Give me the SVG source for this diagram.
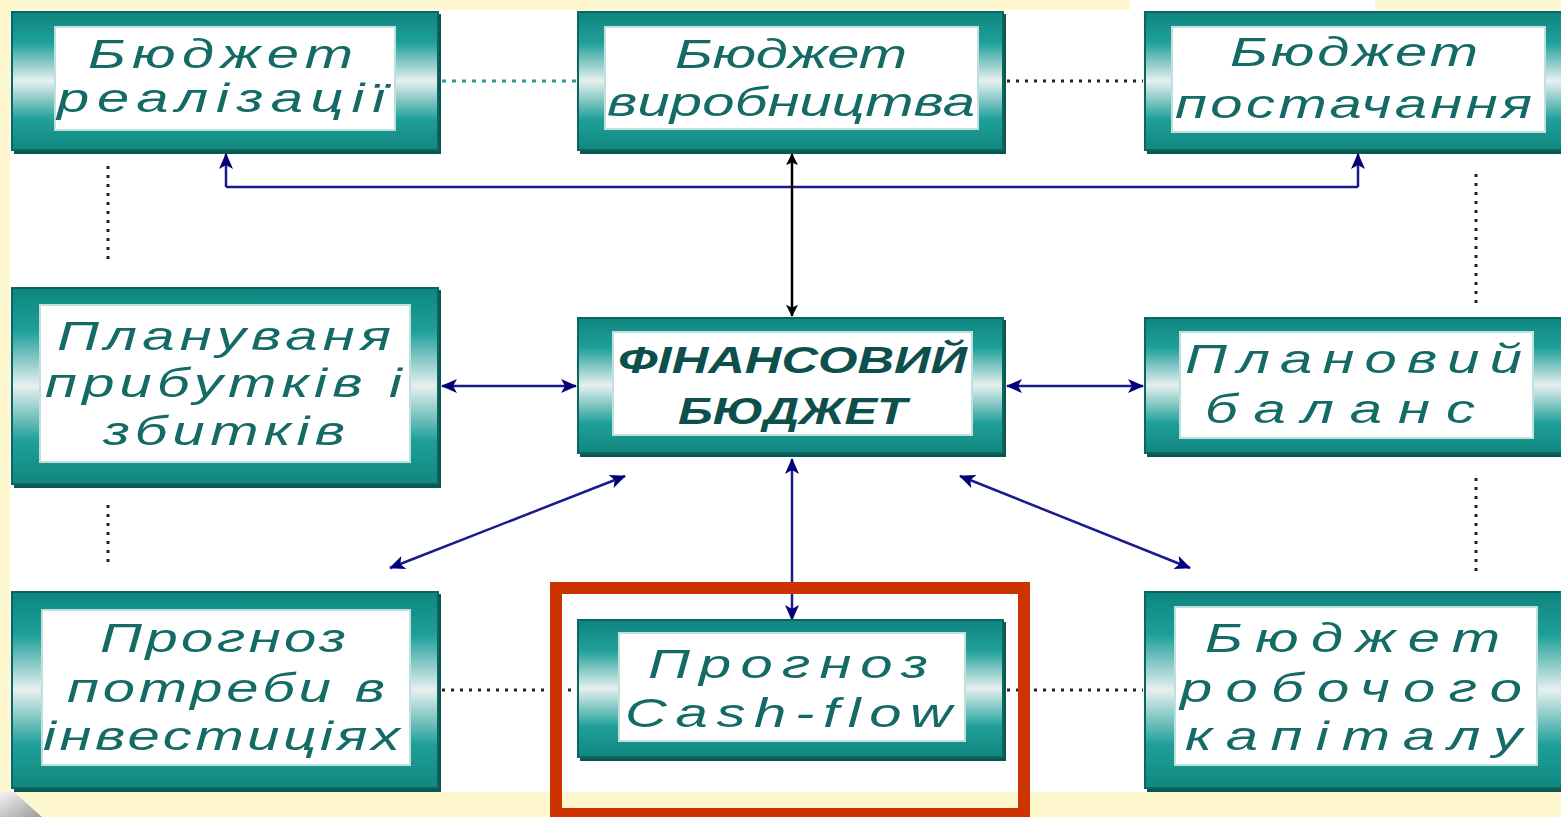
<svg xmlns="http://www.w3.org/2000/svg" width="1561" height="817" viewBox="0 0 1561 817">
<defs>
<linearGradient id="fr" x1="0" y1="0" x2="0" y2="1">
<stop offset="0" stop-color="#0E857F"/>
<stop offset="0.22" stop-color="#1F9F99"/>
<stop offset="0.5" stop-color="#E6F0EF"/>
<stop offset="0.78" stop-color="#1F9F99"/>
<stop offset="1" stop-color="#10877F"/>
</linearGradient>
<linearGradient id="curl" x1="0" y1="0" x2="1" y2="1">
<stop offset="0" stop-color="#F4F4F4"/>
<stop offset="1" stop-color="#9A9A9A"/>
</linearGradient>
<marker id="an" viewBox="0 0 16 14" refX="15" refY="7" markerWidth="16" markerHeight="14" orient="auto-start-reverse" markerUnits="userSpaceOnUse">
<path d="M0,0 L16,7 L0,14 L4,7 z" fill="#00007A"/>
</marker>
<marker id="ak" viewBox="0 0 14 14" refX="13" refY="7" markerWidth="12" markerHeight="12" orient="auto-start-reverse" markerUnits="userSpaceOnUse">
<path d="M0,0 L14,7 L0,14 L3,7 z" fill="#000"/>
</marker>
</defs>
<style>
.sh{fill:#0A5653}
.fr{fill:url(#fr);stroke:#0B6662;stroke-width:2}
.in{fill:#fff;stroke:#BFE0DD;stroke-width:2}
.t{font-family:"Liberation Sans",Arial,sans-serif;font-style:italic;font-size:40px;fill:#146A65}
.b{font-weight:bold;font-size:36px;fill:#0C4F4C}
.dk{stroke:#222;stroke-width:3;stroke-dasharray:3 6;fill:none}
.dt{stroke:#2A9A95;stroke-width:3;stroke-dasharray:4 6;fill:none}
.ar{stroke:#1A1A8E;stroke-width:2.5;fill:none}
</style>
<rect x="0" y="0" width="1561" height="817" fill="#FFF8CE"/>
<rect x="10" y="10" width="1551" height="782" fill="#fff"/>
<rect x="1130" y="0" width="245" height="10" fill="#fff"/>
<path d="M0,792 L14,792 L42,817 L0,817 z" fill="url(#curl)"/>

<g id="connectors">
<path class="dt" d="M442,81 H576"/>
<path class="dk" d="M1007,81 H1143"/>
<path class="dk" d="M108,166 V260"/>
<path class="dk" d="M108,505 V564"/>
<path class="dk" d="M1476,174 V304"/>
<path class="dk" d="M1476,478 V572"/>
<path class="dk" d="M442,690 H576"/>
<path class="dk" d="M1007,690 H1143"/>
<path class="ar" d="M226,187 H1358"/>
<path class="ar" d="M226,187 V154" marker-end="url(#an)"/>
<path class="ar" d="M1358,187 V154" marker-end="url(#an)"/>
<path d="M792,154 V316" stroke="#000" stroke-width="2.5" fill="none" marker-start="url(#ak)" marker-end="url(#ak)"/>
<path class="ar" d="M442,386 H576" marker-start="url(#an)" marker-end="url(#an)"/>
<path class="ar" d="M1007,386 H1143" marker-start="url(#an)" marker-end="url(#an)"/>
<path class="ar" d="M625,476 L390,568" marker-start="url(#an)" marker-end="url(#an)"/>
<path class="ar" d="M960,476 L1190,568" marker-start="url(#an)" marker-end="url(#an)"/>
<path class="ar" d="M792,459 V620" marker-start="url(#an)" marker-end="url(#an)"/>
</g>

<g id="n1">
<rect class="sh" x="14" y="14" width="427" height="140"/>
<rect class="fr" x="12" y="12" width="426" height="138"/>
<rect class="in" x="55" y="27" width="340" height="103"/>
<text class="t" transform="translate(88 68) scale(1.45 1)" textLength="182.8">Бюджет</text>
<text class="t" transform="translate(57 112) scale(1.45 1)" textLength="226.2">реалізації</text>
</g>
<g id="n2">
<rect class="sh" x="580" y="14" width="426" height="140"/>
<rect class="fr" x="578" y="12" width="425" height="138"/>
<rect class="in" x="605" y="27" width="373" height="102"/>
<text class="t" transform="translate(675 68) scale(1.45 1)" textLength="160">Бюджет</text>
<text class="t" transform="translate(607 116) scale(1.45 1)" textLength="253.8">виробництва</text>
</g>
<g id="n3">
<rect class="sh" x="1147" y="14" width="416" height="140"/>
<rect class="fr" x="1145" y="12" width="418" height="138"/>
<rect class="in" x="1172" y="27" width="373" height="105"/>
<text class="t" transform="translate(1230 66) scale(1.45 1)" textLength="171">Бюджет</text>
<text class="t" transform="translate(1175 118) scale(1.45 1)" textLength="246.2">постачання</text>
</g>
<g id="n4">
<rect class="sh" x="14" y="290" width="427" height="198"/>
<rect class="fr" x="12" y="288" width="426" height="196"/>
<rect class="in" x="40" y="305" width="370" height="157"/>
<text class="t" transform="translate(57 350) scale(1.45 1)" textLength="230.3">Плануваня</text>
<text class="t" transform="translate(45 397) scale(1.45 1)" textLength="246.2">прибутків і</text>
<text class="t" transform="translate(103 445) scale(1.45 1)" textLength="166.9">збитків</text>
</g>
<g id="n5">
<rect class="sh" x="580" y="320" width="426" height="137"/>
<rect class="fr" x="578" y="318" width="425" height="135"/>
<rect class="in" x="613" y="332" width="359" height="103"/>
<text class="t b" x="618" y="373" textLength="349" lengthAdjust="spacingAndGlyphs">ФІНАНСОВИЙ</text>
<text class="t b" x="678" y="424" textLength="229" lengthAdjust="spacingAndGlyphs">БЮДЖЕТ</text>
</g>
<g id="n6">
<rect class="sh" x="1147" y="320" width="416" height="137"/>
<rect class="fr" x="1145" y="318" width="418" height="135"/>
<rect class="in" x="1180" y="332" width="353" height="106"/>
<text class="t" transform="translate(1185 373) scale(1.45 1)" textLength="232.4">Плановий</text>
<text class="t" transform="translate(1205 423) scale(1.45 1)" textLength="186.2">баланс</text>
</g>
<g id="n7">
<rect class="sh" x="14" y="594" width="427" height="198"/>
<rect class="fr" x="12" y="592" width="426" height="196"/>
<rect class="in" x="42" y="610" width="368" height="155"/>
<text class="t" transform="translate(100 652) scale(1.45 1)" textLength="169.7">Прогноз</text>
<text class="t" transform="translate(67 702) scale(1.45 1)" textLength="219.3">потреби в</text>
<text class="t" transform="translate(43 750) scale(1.45 1)" textLength="246.2">інвестиціях</text>
</g>
<g id="n8">
<rect class="sh" x="580" y="622" width="426" height="139"/>
<rect class="fr" x="578" y="620" width="425" height="137"/>
<rect class="in" x="619" y="633" width="346" height="108"/>
<text class="t" transform="translate(648 678) scale(1.45 1)" textLength="193.1">Прогноз</text>
<text class="t" transform="translate(625 727) scale(1.45 1)" textLength="225.5">Cash-flow</text>
</g>
<g id="n9">
<rect class="sh" x="1147" y="594" width="416" height="198"/>
<rect class="fr" x="1145" y="592" width="418" height="196"/>
<rect class="in" x="1175" y="607" width="362" height="158"/>
<text class="t" transform="translate(1205 652) scale(1.45 1)" textLength="203.4">Бюджет</text>
<text class="t" transform="translate(1180 702) scale(1.45 1)" textLength="235.9">робочого</text>
<text class="t" transform="translate(1185 750) scale(1.45 1)" textLength="232.4">капіталу</text>
</g>

<rect id="highlight" x="556" y="588" width="468" height="226" fill="none" stroke="#CC3300" stroke-width="12"/>
</svg>
